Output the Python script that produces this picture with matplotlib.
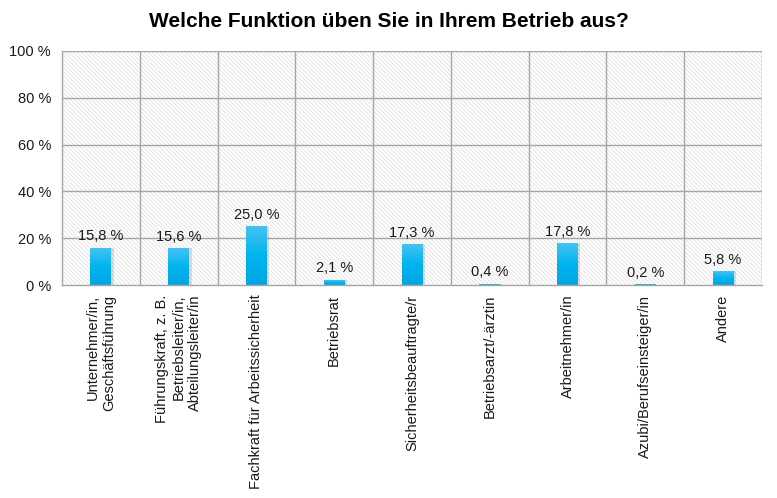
import numpy as np
import matplotlib
matplotlib.use("Agg")
import matplotlib.pyplot as plt
from matplotlib.patches import Rectangle
from matplotlib.colors import LinearSegmentedColormap

plt.rcParams['font.family'] = ['Liberation Sans', 'DejaVu Sans']
plt.rcParams['hatch.linewidth'] = 0.6

# data
categories = [
    "Unternehmer/in,\nGeschäftsführung",
    "Führungskraft, z. B.\nBetriebsleiter/in,\nAbteilungsleiter/in",
    "Fachkraft für Arbeitssicherheit",
    "Betriebsrat",
    "Sicherheitsbeauftragte/r",
    "Betriebsarzt/-ärztin",
    "Arbeitnehmer/in",
    "Azubi/Berufseinsteiger/in",
    "Andere",
]
values = [15.8, 15.6, 25.0, 2.1, 17.3, 0.4, 17.8, 0.2, 5.8]
yticks = [0, 20, 40, 60, 80, 100]
title = "Welche Funktion üben Sie in Ihrem Betrieb aus?"

fig = plt.figure(figsize=(7.77, 4.98), dpi=100)
ax = fig.add_axes([0.0798, 0.4277, 0.9009, 0.4699])

n = len(categories)
x = np.arange(n)

# hatched plot background
ax.add_patch(Rectangle((0, 0), 1, 1, transform=ax.transAxes, facecolor='white',
                       edgecolor='#e0e0e0', hatch='\\' * 8, lw=0, zorder=0))

# grid
grid_c = '#a6a6a6'
for yv in yticks[1:]:
    ax.axhline(yv, color=grid_c, lw=1, zorder=1)
for xv in np.arange(0.5, n - 0.5, 1):
    ax.axvline(xv, color=grid_c, lw=1, zorder=1)
ax.axvline(n - 0.5, color=grid_c, lw=1, zorder=1)

for s in ['top', 'right']:
    ax.spines[s].set_visible(False)
for s in ['left', 'bottom']:
    ax.spines[s].set_color(grid_c)
    ax.spines[s].set_linewidth(1)
    ax.spines[s].set_zorder(3)

# gradient bars
cmap = LinearSegmentedColormap.from_list('bar', ['#45c2f2', '#00b4f0', '#00a6e4'])
grad = np.linspace(0, 1, 64).reshape(-1, 1)
bw = 0.27
for xi, v in zip(x, values):
    # soft shadow
    ax.add_patch(Rectangle((xi - bw / 2 + 0.03, 0), bw, v, facecolor='#000000',
                           alpha=0.12, lw=0, zorder=2))
    ax.imshow(grad, cmap=cmap, aspect='auto', origin='upper',
              extent=(xi - bw / 2, xi + bw / 2, 0, v), zorder=2.5)
    ax.text(xi, v + 2, ("%.1f %%" % v).replace('.', ','), ha='center', va='bottom',
            fontsize=10.5, color='#1a1a1a', zorder=4)
ax.set_xlim(-0.5, n - 0.5)
ax.set_ylim(0, 100)

ax.set_yticks(yticks)
ax.set_yticklabels(["%d %%" % t for t in yticks], fontsize=10.5, color='#1a1a1a')
ax.set_xticks(x)
ax.set_xticklabels(categories, rotation=90, fontsize=10.5, color='#1a1a1a',
                   ha='center', va='top', multialignment='right')
ax.tick_params(axis='both', length=0)
ax.tick_params(axis='y', pad=8)
ax.tick_params(axis='x', pad=7)

fig.text(0.5, 0.957, title, ha='center', va='center', fontsize=15,
         fontweight='bold', color='#000000')

fig.savefig("out.png", dpi=100)
